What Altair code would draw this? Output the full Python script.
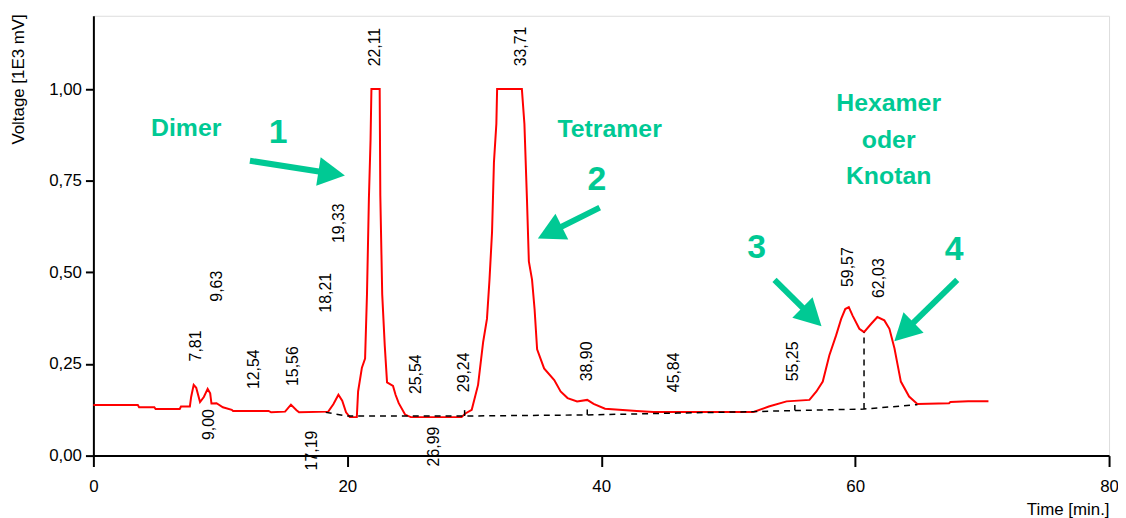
import math
import altair as alt
import pandas as pd

# ---- chromatogram trace (time in min, voltage in 1E3 mV) ----
trace_t = [0, 3.5, 3.6, 4.8, 4.9, 6.8, 6.9, 7.6, 7.7, 7.9, 8.1, 8.4, 8.7, 9.0, 9.2, 9.3,
           9.7, 10.2, 10.9, 11.0, 13.8, 14.0, 15.1, 15.56, 16.0, 16.2, 18.5, 18.9, 19.3,
           19.6, 19.9, 20.2, 20.75, 20.85, 21.15, 21.4, 21.55, 21.7, 21.83, 21.9, 22.55,
           22.6, 22.75, 22.95, 23.13, 23.6, 23.8, 24.05, 24.55, 25.0, 29.0, 29.3, 29.8,
           30.3, 30.7, 31.0, 31.2, 31.4, 31.55, 31.74, 31.8, 33.75, 33.95, 34.15, 34.3,
           34.55, 34.75, 34.95, 35.5, 36.3, 36.8, 37.35, 38.1, 38.9, 39.4, 40.3, 42.8,
           44.1, 52.0, 53.2, 54.6, 56.4, 56.95, 57.45, 57.97, 58.5, 58.9, 59.22, 59.5,
           59.8, 60.33, 60.7, 61.25, 61.75, 62.3, 62.7, 63.1, 63.35, 63.6, 64.25, 64.9,
           67.4, 67.5, 68.9, 70.5]
trace_v = [0.138, 0.138, 0.132, 0.132, 0.127, 0.127, 0.134, 0.134, 0.16, 0.193, 0.185,
           0.146, 0.16, 0.182, 0.17, 0.142, 0.143, 0.132, 0.125, 0.122, 0.122, 0.118,
           0.120, 0.139, 0.124, 0.118, 0.120, 0.14, 0.166, 0.150, 0.118, 0.105, 0.105,
           0.175, 0.24, 0.265, 0.44, 0.70, 0.86, 1.0, 1.0, 0.71, 0.44, 0.30, 0.20, 0.19,
           0.166, 0.143, 0.112, 0.105, 0.105, 0.115, 0.125, 0.193, 0.31, 0.373, 0.48,
           0.61, 0.80, 0.905, 1.0, 1.0, 0.905, 0.70, 0.53, 0.48, 0.40, 0.29, 0.238,
           0.206, 0.175, 0.157, 0.148, 0.152, 0.141, 0.128, 0.122, 0.119, 0.119, 0.134,
           0.148, 0.152, 0.175, 0.202, 0.274, 0.328, 0.373, 0.40, 0.405, 0.382, 0.346,
           0.337, 0.359, 0.378, 0.369, 0.346, 0.292, 0.247, 0.202, 0.161, 0.141, 0.143,
           0.146, 0.148, 0.148]

# ---- integration baseline (dashed) ----
base_t = [18.3, 20.0, 29.24, 38.9, 46.0, 52.0, 55.25, 60.7, 64.9]
base_v = [0.118, 0.108, 0.108, 0.111, 0.116, 0.120, 0.123, 0.127, 0.139]

# ---- perpendicular drops ----
drop_t = [29.24, 38.9, 55.25, 60.7]
drop_lo = [0.108, 0.111, 0.123, 0.127]
drop_hi = [0.124, 0.126, 0.138, 0.337]

# ---- retention time labels ----
up_labels = ["7,81", "9,63", "12,54", "15,56", "18,21", "19,33", "22,11", "25,54",
             "29,24", "33,71", "38,90", "45,84", "55,25", "59,57", "62,03"]
up_t = [8.05, 9.70, 12.67, 15.72, 18.30, 19.32, 22.21, 25.42, 29.17, 33.70, 38.87,
        45.75, 55.13, 59.43, 61.86]
up_v = [0.257, 0.42, 0.1815, 0.19, 0.39, 0.58, 1.062, 0.168, 0.173, 1.062, 0.203,
        0.173, 0.203, 0.46, 0.43]
down_labels = ["9,00", "17,19", "26,99"]
down_t = [9.07, 17.22, 26.80]
down_v = [0.127, 0.068, 0.079]

# ---- green annotations ----
note_text = ["Dimer", "Tetramer", "Hexamer", "oder", "Knotan"]
note_t = [7.31, 40.66, 62.64, 62.64, 62.64]
note_v = [0.872, 0.8695, 0.94, 0.8397, 0.742]
num_text = ["1", "2", "3", "4"]
num_t = [14.55, 39.65, 52.24, 67.80]
num_v = [0.853, 0.726, 0.539, 0.5336]

arrow_t0 = [12.33, 39.88, 53.65, 68.04]
arrow_v0 = [0.8045, 0.6764, 0.4795, 0.4795]
arrow_t1 = [19.81, 35.01, 57.35, 63.09]
arrow_v1 = [0.7639, 0.5924, 0.353, 0.3123]

x_ticks = [0, 20, 40, 60, 80]
y_ticks = [0, 0.25, 0.5, 0.75, 1.0]

W, H = 1023, 443
XMAX, YMAX = 80, 1.2
GREEN = "#00c994"
FONT = "Liberation Sans"

# arrow geometry (direction in screen space)
ppx, ppy = W / XMAX, H / YMAX
shaft_t1, shaft_v1, angles = [], [], []
for a0, b0, a1, b1 in zip(arrow_t0, arrow_v0, arrow_t1, arrow_v1):
    dx = (a1 - a0) * ppx
    dy = -(b1 - b0) * ppy
    L = math.hypot(dx, dy)
    ux, uy = dx / L, dy / L
    shaft_t1.append(a1 - 20 * ux / ppx)
    shaft_v1.append(b1 + 20 * uy / ppy)
    angles.append(math.degrees(math.atan2(dx, -dy)) % 360)

xs = alt.Scale(domain=[0, XMAX], nice=False, zero=False)
ys = alt.Scale(domain=[0, YMAX], nice=False, zero=False)

x_axis = alt.Axis(values=x_ticks, format="d", title="Time [min.]", grid=False,
                  titleX=W, titleY=59, titleAlign="right", titleBaseline="alphabetic",
                  titleFont=FONT, titleFontSize=17, titleFontWeight="normal", titleColor="black",
                  labelFont=FONT, labelFontSize=17, labelColor="black", labelFlush=False,
                  tickSize=11, tickWidth=2, tickColor="black", labelPadding=12,
                  domainColor="black", domainWidth=2)
y_axis = alt.Axis(values=y_ticks, labelExpr="replace(format(datum.value, '.2f'), '.', ',')",
                  title="Voltage [1E3 mV]", grid=False, titleAngle=270, titleX=-75, titleY=-2,
                  titleAlign="right", titleBaseline="middle",
                  titleFont=FONT, titleFontSize=17, titleFontWeight="normal", titleColor="black",
                  labelFont=FONT, labelFontSize=17, labelColor="black", labelFlush=False,
                  tickSize=8, tickWidth=2, tickColor="black", labelPadding=4,
                  domainColor="black", domainWidth=2)


def X(f="t"):
    return alt.X(f, type="quantitative", scale=xs, axis=x_axis)


def Y(f="v"):
    return alt.Y(f, type="quantitative", scale=ys, axis=y_axis)


trace_df = pd.DataFrame({"t": trace_t, "v": trace_v})
base_df = pd.DataFrame({"t": base_t, "v": base_v})
drop_df = pd.DataFrame({"t": drop_t, "v": drop_lo, "v2": drop_hi})
up_df = pd.DataFrame({"t": up_t, "v": up_v, "label": up_labels})
down_df = pd.DataFrame({"t": down_t, "v": down_v, "label": down_labels})
note_df = pd.DataFrame({"t": note_t, "v": note_v, "label": note_text})
num_df = pd.DataFrame({"t": num_t, "v": num_v, "label": num_text})
shaft_df = pd.DataFrame({"t": arrow_t0, "v": arrow_v0, "t2": shaft_t1, "v2": shaft_v1})
head_df = pd.DataFrame({"t": arrow_t1, "v": arrow_v1, "angle": angles})

trace = alt.Chart(trace_df).mark_line(color="#ff0000", strokeWidth=2).encode(
    x=X(), y=Y(), order="t:Q")
base = alt.Chart(base_df).mark_line(color="black", strokeWidth=1.5, strokeDash=[6, 5]).encode(
    x=X(), y=Y())
drops = alt.Chart(drop_df).mark_rule(color="black", strokeWidth=1.5, strokeDash=[6, 5]).encode(
    x=X(), y=Y(), y2="v2:Q")
up = alt.Chart(up_df).mark_text(angle=270, align="left", baseline="middle", font=FONT,
                                fontSize=16, color="black").encode(x=X(), y=Y(), text="label:N")
down = alt.Chart(down_df).mark_text(angle=270, align="right", baseline="middle", font=FONT,
                                    fontSize=16, color="black").encode(x=X(), y=Y(), text="label:N")
notes = alt.Chart(note_df).mark_text(align="center", baseline="alphabetic", font=FONT,
                                     fontSize=25, fontWeight="bold", color=GREEN).encode(
    x=X(), y=Y(), text="label:N")
nums = alt.Chart(num_df).mark_text(align="center", baseline="alphabetic", font=FONT,
                                   fontSize=34, fontWeight="bold", color=GREEN).encode(
    x=X(), y=Y(), text="label:N")
shafts = alt.Chart(shaft_df).mark_rule(color=GREEN, strokeWidth=6).encode(
    x=X(), y=Y(), x2="t2:Q", y2="v2:Q")
heads = alt.Chart(head_df).mark_point(shape="M0,0L1,1.86L-1,1.86Z", filled=True, fill=GREEN,
                                      strokeWidth=0, opacity=1, size=841).encode(
    x=X(), y=Y(), angle=alt.Angle("angle:Q", scale=None))

chart = alt.layer(trace, base, drops, up, down, notes, nums, shafts, heads).properties(
    width=W, height=H,
    autosize=alt.AutoSizeParams(type="none"),
    padding={"left": 86, "top": 6, "right": 9, "bottom": 61},
).configure_view(stroke="black", strokeWidth=2).configure(background="white")

chart.save("out.html", embed_options={"renderer": "svg", "actions": False})
